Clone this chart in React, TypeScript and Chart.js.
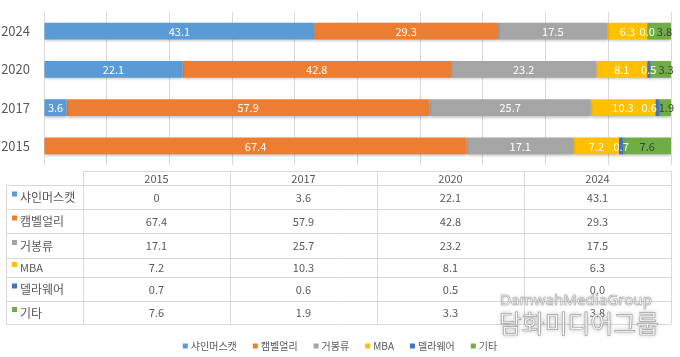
import React, { useEffect, useRef } from "react";
import { Chart, registerables } from "chart.js";

Chart.register(...registerables);

// ---- data ----
const years = ["2015", "2017", "2020", "2024"];
const seriesNames = ["샤인머스캣", "캠벨얼리", "거봉류", "MBA", "델라웨어", "기타"];
const shineMuscat: (number | null)[] = [null, 3.6, 22.1, 43.1]; // 2015 blank (shown as 0)
const campbellEarly = [67.4, 57.9, 42.8, 29.3];
const kyoho = [17.1, 25.7, 23.2, 17.5];
const mba = [7.2, 10.3, 8.1, 6.3];
const delaware = [0.7, 0.6, 0.5, 0.0];
const others = [7.6, 1.9, 3.3, 3.8];
const seriesColors = ["#5B9BD5", "#ED7D31", "#A5A5A5", "#FFC000", "#4472C4", "#70AD47"];
const labelColors = ["#ffffff", "#ffffff", "#ffffff", "#ffffff", "#ffffff", "#404040"];
const xMax = 100;
const xStep = 10;
const watermarkEn = "DamwahMediaGroup";
const watermarkKo = "담화미디어그룹";

const allSeries = [shineMuscat, campbellEarly, kyoho, mba, delaware, others];

const FONT = '"Noto Sans CJK KR", "Noto Sans", sans-serif';
const TEXT = "#595959";
const LINE = "#d9d9d9";

const fmt = (v: number | null) => (v == null ? "0" : v.toFixed(1));

const tablePlugin = {
  id: "tableAndExtras",
  beforeDatasetsDraw(chart: any) {
    const c = chart.ctx;
    c.save();
    c.shadowColor = "rgba(0,0,0,0.28)";
    c.shadowBlur = 3;
    c.shadowOffsetY = 1.5;
  },
  afterDatasetsDraw(chart: any) {
    const c = chart.ctx;
    const area = chart.chartArea;
    c.restore();
    c.save();
    c.font = `11px ${FONT}`;
    c.textAlign = "center";
    c.textBaseline = "middle";
    const nCat = chart.data.labels.length;
    for (let j = 0; j < nCat; j++) {
      // collect labels on this bar
      const items: any[] = [];
      chart.data.datasets.forEach((ds: any, i: number) => {
        const v = ds.data[j];
        if (v == null) return;
        const bar = chart.getDatasetMeta(i).data[j];
        const p = bar.getProps(["x", "y", "base"], true);
        const text = fmt(v);
        items.push({ i, text, cx: (p.x + p.base) / 2, y: p.y, w: c.measureText(text).width });
      });
      // resolve overlaps: push later labels right
      const gap = 2;
      for (let k = 1; k < items.length; k++) {
        const a = items[k - 1];
        const b = items[k];
        const minSep = (a.w + b.w) / 2 + gap;
        if (b.cx - a.cx < minSep) b.cx = a.cx + minSep;
      }
      // keep last label within limit, pushing earlier ones left
      const limit = area.right + 3;
      for (let k = items.length - 1; k >= 0; k--) {
        const it = items[k];
        const maxCx = k === items.length - 1 ? limit - it.w / 2 : items[k + 1].cx - (it.w + items[k + 1].w) / 2 - gap;
        if (it.cx > maxCx) it.cx = maxCx;
      }
      items.forEach((it) => {
        c.fillStyle = labelColors[it.i];
        c.fillText(it.text, it.cx, it.y + 0.5);
      });
    }
    c.restore();
  },
  afterDraw(chart: any) {
    const c = chart.ctx;
    const area = chart.chartArea;
    c.save();
    // ---- data table ----
    const tLeft = 6;
    const labelRight = 83;
    const tRight = area.right;
    const colW = (tRight - labelRight) / years.length;
    const rows = [171, 185, 209, 233, 258, 277, 301, 324];
    c.strokeStyle = LINE;
    c.lineWidth = 1;
    c.beginPath();
    c.moveTo(labelRight, rows[0] + 0.5);
    c.lineTo(tRight, rows[0] + 0.5);
    for (let r = 1; r < rows.length; r++) {
      c.moveTo(tLeft, rows[r] + 0.5);
      c.lineTo(tRight, rows[r] + 0.5);
    }
    c.moveTo(tLeft + 0.5, rows[1]);
    c.lineTo(tLeft + 0.5, rows[rows.length - 1]);
    for (let k = 0; k <= years.length; k++) {
      const x = Math.round(labelRight + k * colW) + 0.5;
      c.moveTo(x, rows[0]);
      c.lineTo(x, rows[rows.length - 1]);
    }
    c.stroke();

    c.textBaseline = "middle";
    c.fillStyle = TEXT;
    c.font = `11px ${FONT}`;
    c.textAlign = "center";
    years.forEach((y, k) => {
      c.fillText(y, labelRight + (k + 0.5) * colW, (rows[0] + rows[1]) / 2 + 0.5);
    });
    allSeries.forEach((s, i) => {
      const cy = (rows[i + 1] + rows[i + 2]) / 2 + 0.5;
      c.textAlign = "center";
      c.fillStyle = TEXT;
      c.font = `11px ${FONT}`;
      s.forEach((v, k) => {
        c.fillText(fmt(v), labelRight + (k + 0.5) * colW, cy);
      });
      c.fillStyle = seriesColors[i];
      c.fillRect(12, cy - 6, 5, 5);
      c.fillStyle = TEXT;
      c.textAlign = "left";
      c.font = i === 3 ? `11px ${FONT}` : `12px ${FONT}`;
      c.fillText(seriesNames[i], 20, cy);
    });

    // ---- legend ----
    c.font = `10px ${FONT}`;
    const gap = 16;
    const widths = seriesNames.map((n) => 5 + 3 + c.measureText(n).width);
    const total = widths.reduce((a, b) => a + b, 0) + gap * (widths.length - 1);
    let lx = chart.width / 2 - total / 2;
    const ly = 346;
    seriesNames.forEach((n, i) => {
      c.fillStyle = seriesColors[i];
      c.fillRect(lx, ly - 2.5, 5, 5);
      c.fillStyle = TEXT;
      c.textAlign = "left";
      c.fillText(n, lx + 8, ly + 0.5);
      lx += widths[i] + gap;
    });

    // ---- watermark ----
    const fitFont = (text: string, family: string, width: number) => {
      c.font = `20px ${family}`;
      const w = c.measureText(text).width;
      return (20 * width) / w;
    };
    c.textAlign = "left";
    c.textBaseline = "alphabetic";
    const enSize = fitFont(watermarkEn, '"Noto Sans", sans-serif', 152);
    c.font = `${enSize}px "Noto Sans", sans-serif`;
    c.shadowColor = "rgba(0,0,0,0.35)";
    c.shadowBlur = 3;
    c.fillStyle = "rgba(255,255,255,0.95)";
    c.fillText(watermarkEn, 500, 305);
    c.shadowBlur = 0;
    c.strokeStyle = "rgba(150,150,150,0.8)";
    c.lineWidth = 0.6;
    c.strokeText(watermarkEn, 500, 305);
    const koSize = fitFont(watermarkKo, FONT, 160);
    c.font = `${koSize}px ${FONT}`;
    c.shadowColor = "rgba(0,0,0,0.4)";
    c.shadowBlur = 4;
    c.fillStyle = "rgba(255,255,255,0.97)";
    c.fillText(watermarkKo, 499, 333);
    c.shadowBlur = 0;
    c.strokeStyle = "rgba(140,140,140,0.8)";
    c.lineWidth = 0.7;
    c.strokeText(watermarkKo, 499, 333);
    c.restore();
  },
};

export default function App() {
  const ref = useRef<HTMLCanvasElement | null>(null);
  useEffect(() => {
    if (!ref.current) return;
    const labels = [...years].reverse();
    const chart = new Chart(ref.current, {
      type: "bar",
      data: {
        labels,
        datasets: allSeries.map((s, i) => ({
          label: seriesNames[i],
          data: [...s].reverse(),
          backgroundColor: seriesColors[i],
          borderWidth: 0,
          barPercentage: 0.44,
          categoryPercentage: 1,
        })),
      },
      options: {
        indexAxis: "y",
        responsive: false,
        animation: false,
        devicePixelRatio: 1,
        layout: { padding: { top: 12, right: 9, bottom: 192, left: 0 } },
        plugins: { legend: { display: false }, tooltip: { enabled: false } },
        scales: {
          x: {
            stacked: true,
            min: 0,
            max: xMax,
            ticks: { display: false, stepSize: xStep },
            grid: { color: LINE, lineWidth: 1, drawTicks: false },
            border: { display: false },
            afterFit: (s: any) => {
              s.height = 0;
              s.paddingLeft = 0;
              s.paddingRight = 0;
            },
          },
          y: {
            stacked: true,
            ticks: { color: TEXT, font: { family: FONT, size: 13 }, padding: 14 },
            grid: { display: false, drawTicks: false },
            border: { display: false },
            afterFit: (s: any) => {
              s.width = 44;
              s.paddingTop = 0;
              s.paddingBottom = 0;
            },
          },
        },
      },
      plugins: [tablePlugin],
    } as any);
    return () => chart.destroy();
  }, []);
  return (
    <div style={{ position: "fixed", left: 0, top: 0, width: 680, height: 357, background: "#fff" }}>
      <canvas ref={ref} width={680} height={357} />
    </div>
  );
}
